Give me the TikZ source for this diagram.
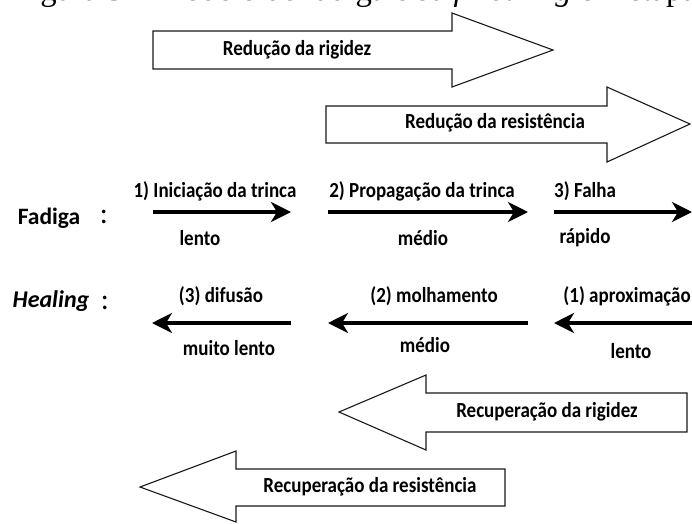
\documentclass[tikz,border=0pt]{standalone}
\usepackage{fontspec}
\usepackage{graphicx}
\setmainfont{Carlito}
\newfontfamily\capfont{Liberation Serif}
\newcommand\tallt[1]{\scalebox{1}[1.13]{#1}}
\usetikzlibrary{arrows.meta}
\begin{document}
\begin{tikzpicture}[x=1pt,y=-1pt,
 bigarrow/.style={draw=black!90,line width=1.1pt,fill=white,line join=miter},
 bigtext/.style={font=\fontsize{19}{22}\selectfont\bfseries,inner sep=0pt},
 lbl/.style={font=\fontsize{19}{22}\selectfont\bfseries,inner sep=0pt},
 rowname/.style={font=\fontsize{23.5}{26}\selectfont\bfseries,inner sep=0pt},
 colon/.style={font=\fontsize{30}{32}\selectfont,inner sep=0pt},
 flow/.style={line width=3.6pt,-{Stealth[length=20pt,width=20pt,inset=6pt]}},
]
\useasboundingbox (0,0) rectangle (692,523);
\clip (0,0) rectangle (692,523);
% caption (cut off at the top)
\node[anchor=base west,inner sep=0pt,font=\capfont\fontsize{32.7}{36}\selectfont] (cap) at (13,0.5) {Figura 3 – Modelo de fadiga e \textit{self-healing} em etapas};
% big arrows
\draw[bigarrow] (153,31) -- (452,31) -- (452,13) -- (553,50) -- (452,87) -- (452,69) -- (153,69) -- cycle;
\node[bigtext] (rr) at (297,50) {\tallt{Redução da rigidez}};
\draw[bigarrow] (326,106) -- (607,106) -- (607,87) -- (690,124) -- (607,162) -- (607,143) -- (326,143) -- cycle;
\node[bigtext] (rs) at (495,123) {\tallt{Redução da resistência}};
\draw[bigarrow] (687,393) -- (426,393) -- (426,375) -- (339,412) -- (426,450) -- (426,432) -- (687,432) -- cycle;
\node[bigtext] (cr) at (547,412) {\tallt{Recuperação da rigidez}};
\draw[bigarrow] (505,469) -- (236,469) -- (236,451) -- (140,487) -- (236,522) -- (236,506) -- (505,506) -- cycle;
\node[bigtext] (cs) at (370,487) {\tallt{Recuperação da resistência}};
% Fadiga row
\node[rowname] (fad) at (49,218) {Fadiga};
\node[colon] (fc) at (104,217) {:};
\coordinate (f1a) at (153,212); \coordinate (f1b) at (291,212);
\coordinate (f2a) at (328,212); \coordinate (f2b) at (528,212);
\coordinate (f3a) at (554,212); \coordinate (f3b) at (692,212);
\draw[flow] (f1a) -- (f1b);
\draw[flow] (f2a) -- (f2b);
\draw[flow] (f3a) -- (f3b);
\node[lbl] (l1) at (215,191) {\tallt{1) Iniciação da trinca}};
\node[lbl] (l2) at (422,191) {\tallt{2) Propagação da trinca}};
\node[lbl,anchor=west] (l3) at (554,191) {\tallt{3) Falha}};
\node[lbl] (s1) at (200,238) {\tallt{lento}};
\node[lbl] (s2) at (423,238) {\tallt{médio}};
\node[lbl] (s3) at (585,238) {\tallt{rápido}};
% Healing row
\node[rowname,font=\fontsize{24}{27}\selectfont\bfseries\itshape] (hea) at (51,301) {Healing};
\node[colon] (hc) at (105,303) {:};
\coordinate (h1a) at (291,323); \coordinate (h1b) at (152,323);
\coordinate (h2a) at (528,323); \coordinate (h2b) at (328,323);
\coordinate (h3a) at (692,323); \coordinate (h3b) at (554,323);
\draw[flow] (h1a) -- (h1b);
\draw[flow] (h2a) -- (h2b);
\draw[flow] (h3a) -- (h3b);
\node[lbl] (m1) at (221,296) {\tallt{(3) difusão}};
\node[lbl] (m2) at (434,296) {\tallt{(2) molhamento}};
\node[lbl,anchor=east] (m3) at (691,296) {\tallt{(1) aproximação}};
\node[lbl] (n1) at (229,348) {\tallt{muito lento}};
\node[lbl] (n2) at (425,345) {\tallt{médio}};
\node[lbl] (n3) at (631,351) {\tallt{lento}};
\end{tikzpicture}
\end{document}
